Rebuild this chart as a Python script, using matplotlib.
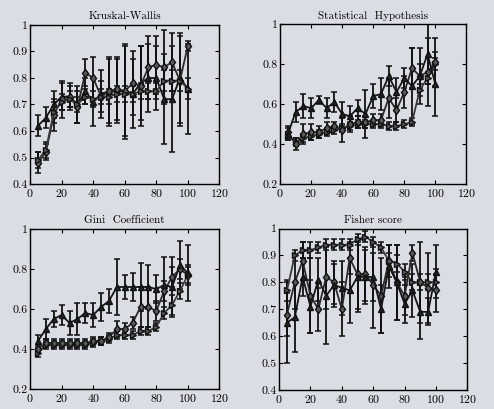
import numpy as np
import matplotlib.pyplot as plt

plt.rcParams['font.family'] = 'cmr10'
plt.rcParams['axes.formatter.use_mathtext'] = True

x = np.arange(5, 105, 5)

# Kruskal-Wallis
kw_tri = [0.62, 0.65, 0.70, 0.73, 0.73, 0.70, 0.75, 0.71, 0.74, 0.75,
          0.75, 0.75, 0.74, 0.78, 0.80, 0.80, 0.72, 0.72, 0.80, 0.76]
kw_tri_err = [0.04, 0.04, 0.05, 0.05, 0.05, 0.07, 0.05, 0.09, 0.09, 0.13,
              0.12, 0.18, 0.13, 0.14, 0.13, 0.12, 0.17, 0.20, 0.17, 0.17]
kw_dia = [0.48, 0.52, 0.66, 0.72, 0.73, 0.69, 0.82, 0.80, 0.73, 0.75,
          0.76, 0.75, 0.78, 0.77, 0.84, 0.85, 0.84, 0.86, 0.79, 0.92]
kw_dia_err = [0.04, 0.03, 0.06, 0.07, 0.04, 0.06, 0.05, 0.08, 0.06, 0.12,
              0.12, 0.17, 0.12, 0.15, 0.12, 0.11, 0.14, 0.11, 0.17, 0.02]
kw_rt = [0.49, 0.53, 0.67, 0.71, 0.72, 0.70, 0.73, 0.72, 0.73, 0.73,
         0.74, 0.74, 0.74, 0.75, 0.75, 0.75, 0.79, 0.79, 0.79, 0.76]
kw_rt_err = [0.03, 0.03, 0.04, 0.03, 0.03, 0.03, 0.03, 0.03, 0.03, 0.03,
             0.03, 0.03, 0.03, 0.03, 0.03, 0.03, 0.04, 0.04, 0.04, 0.04]

# Statistical Hypothesis
sh_tri = [0.45, 0.56, 0.59, 0.58, 0.62, 0.58, 0.61, 0.55, 0.54, 0.58,
          0.55, 0.64, 0.65, 0.74, 0.66, 0.73, 0.69, 0.74, 0.85, 0.70]
sh_tri_err = [0.03, 0.05, 0.06, 0.05, 0.02, 0.05, 0.05, 0.06, 0.05, 0.04,
              0.12, 0.06, 0.08, 0.05, 0.07, 0.05, 0.19, 0.14, 0.15, 0.16]
sh_dia = [0.46, 0.40, 0.45, 0.46, 0.46, 0.48, 0.49, 0.47, 0.50, 0.51,
          0.51, 0.52, 0.52, 0.63, 0.57, 0.66, 0.78, 0.74, 0.76, 0.81]
sh_dia_err = [0.03, 0.03, 0.05, 0.04, 0.03, 0.03, 0.02, 0.06, 0.04, 0.03,
              0.03, 0.03, 0.03, 0.10, 0.06, 0.08, 0.10, 0.06, 0.17, 0.12]
sh_rt = [0.44, 0.41, 0.43, 0.44, 0.45, 0.46, 0.47, 0.48, 0.49, 0.50,
         0.50, 0.50, 0.50, 0.49, 0.49, 0.50, 0.51, 0.67, 0.73, 0.80]
sh_rt_err = [0.02, 0.02, 0.02, 0.02, 0.02, 0.02, 0.02, 0.02, 0.02, 0.02,
             0.02, 0.02, 0.02, 0.02, 0.02, 0.02, 0.02, 0.03, 0.03, 0.03]

# Gini Coefficient
gc_tri = [0.44, 0.50, 0.55, 0.57, 0.53, 0.55, 0.58, 0.57, 0.61, 0.64,
          0.71, 0.71, 0.71, 0.71, 0.71, 0.70, 0.72, 0.71, 0.82, 0.78]
gc_tri_err = [0.03, 0.05, 0.04, 0.05, 0.06, 0.08, 0.05, 0.06, 0.07, 0.06,
              0.14, 0.06, 0.07, 0.12, 0.11, 0.07, 0.14, 0.15, 0.12, 0.14]
gc_dia = [0.40, 0.43, 0.43, 0.43, 0.43, 0.43, 0.43, 0.44, 0.44, 0.46,
          0.50, 0.50, 0.53, 0.61, 0.61, 0.59, 0.69, 0.76, 0.80, 0.77]
gc_dia_err = [0.02, 0.02, 0.02, 0.02, 0.02, 0.02, 0.02, 0.02, 0.02, 0.02,
              0.04, 0.03, 0.03, 0.10, 0.10, 0.05, 0.05, 0.05, 0.05, 0.05]
gc_rt = [0.38, 0.42, 0.42, 0.42, 0.42, 0.42, 0.42, 0.43, 0.44, 0.45,
         0.47, 0.47, 0.47, 0.49, 0.49, 0.51, 0.58, 0.62, 0.69, 0.77]
gc_rt_err = [0.02, 0.02, 0.02, 0.02, 0.02, 0.02, 0.02, 0.02, 0.02, 0.02,
             0.02, 0.02, 0.02, 0.02, 0.02, 0.02, 0.03, 0.05, 0.04, 0.04]

# Fisher score
fs_rt = [0.77, 0.90, 0.92, 0.92, 0.93, 0.94, 0.94, 0.94, 0.94, 0.96,
         0.97, 0.95, 0.93, 0.88, 0.87, 0.84, 0.80, 0.80, 0.80, 0.80]
fs_rt_err = [0.04, 0.02, 0.03, 0.03, 0.02, 0.02, 0.02, 0.02, 0.02, 0.02,
             0.02, 0.02, 0.02, 0.03, 0.03, 0.03, 0.03, 0.03, 0.03, 0.03]
fs_dia = [0.68, 0.80, 0.88, 0.75, 0.70, 0.82, 0.80, 0.70, 0.89, 0.83,
          0.83, 0.79, 0.75, 0.88, 0.80, 0.75, 0.91, 0.80, 0.78, 0.77]
fs_dia_err = [0.08, 0.10, 0.07, 0.14, 0.08, 0.12, 0.08, 0.10, 0.06, 0.13,
              0.10, 0.16, 0.14, 0.06, 0.14, 0.07, 0.03, 0.15, 0.13, 0.08]
fs_tri = [0.65, 0.67, 0.82, 0.71, 0.81, 0.75, 0.79, 0.78, 0.77, 0.82,
          0.82, 0.82, 0.70, 0.86, 0.80, 0.72, 0.77, 0.69, 0.69, 0.84]
fs_tri_err = [0.15, 0.13, 0.07, 0.10, 0.08, 0.18, 0.08, 0.10, 0.12, 0.13,
              0.10, 0.09, 0.09, 0.08, 0.14, 0.07, 0.10, 0.10, 0.05, 0.10]

bg = '#dadde3'
fig = plt.figure(figsize=(4.94, 4.09), dpi=100, facecolor=bg)

panels = [
    ('Kruskal-Wallis', [0.061, 0.550, 0.383, 0.389], (0.4, 1), np.arange(0.4, 1.01, 0.1),
     [(kw_tri, kw_tri_err, '^'), (kw_dia, kw_dia_err, 'd'), (kw_rt, kw_rt_err, '>')]),
    ('Statistical  Hypothesis', [0.567, 0.550, 0.377, 0.391], (0.2, 1), np.arange(0.2, 1.01, 0.2),
     [(sh_rt, sh_rt_err, '>'), (sh_dia, sh_dia_err, 'd'), (sh_tri, sh_tri_err, '^')]),
    ('Gini  Coefficient', [0.061, 0.049, 0.383, 0.391], (0.2, 1), np.arange(0.2, 1.01, 0.2),
     [(gc_rt, gc_rt_err, '>'), (gc_dia, gc_dia_err, 'd'), (gc_tri, gc_tri_err, '^')]),
    ('Fisher score', [0.565, 0.047, 0.381, 0.394], (0.4, 1), np.arange(0.4, 1.01, 0.1),
     [(fs_rt, fs_rt_err, '>'), (fs_dia, fs_dia_err, 'd'), (fs_tri, fs_tri_err, '^')]),
]

colors = {'^': '#151515', 'd': '#2a2a2a', '>': '#3a3a3a'}

for title, pos, ylim, yticks, series in panels:
    ax = fig.add_axes(pos, facecolor=bg)
    for y, e, m in series:
        ax.errorbar(x, y, yerr=e, marker=m, color=colors[m], markersize=4.5,
                    markerfacecolor='#5a5a5a' if m != '^' else '#222222',
                    markeredgecolor='#111111', linewidth=1.3, elinewidth=1.3,
                    ecolor='#111111', capsize=2, capthick=1.1)
    ax.set_xlim(0, 120)
    ax.set_ylim(*ylim)
    ax.set_xticks(np.arange(0, 121, 20))
    ax.set_yticks(yticks)
    ax.set_yticklabels(['%g' % round(t, 1) for t in yticks])
    ax.tick_params(direction='in', labelsize=8.5, length=3, right=True, top=True, pad=2)
    for s in ax.spines.values():
        s.set_linewidth(1.0)
    ax.set_title(title, fontsize=8, pad=4)

fig.savefig('out.png', dpi=100, facecolor=bg)
